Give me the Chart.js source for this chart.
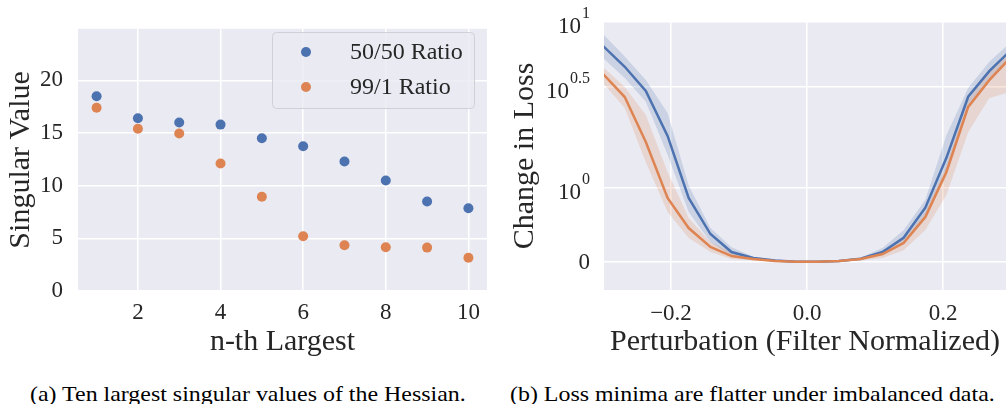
<!DOCTYPE html>
<html>
<head>
<meta charset="utf-8">
<script src="https://cdn.jsdelivr.net/npm/chart.js@4.4.0/dist/chart.umd.min.js"></script>
<style>
  html, body { margin: 0; padding: 0; background: #fff; width: 1006px; height: 404px; overflow: hidden; }
  #chartA { position: absolute; left: 0; top: 0; }
  #chartB { position: absolute; left: 500px; top: 0; }
  .cap { position: absolute; top: 383px; font-family: "Liberation Serif", serif; font-size: 22px;
         line-height: 22px; white-space: nowrap; color: #000; transform-origin: 0 0; transform: scaleX(1.087); }
</style>
</head>
<body>
<canvas id="chartA" width="500" height="360"></canvas>
<canvas id="chartB" width="506" height="360"></canvas>
<div class="cap" style="left:30px">(a) Ten largest singular values of the Hessian.</div>
<div class="cap" style="left:510px">(b) Loss minima are flatter under imbalanced data.</div>
<script>
// (a) singular values
const rank = [1, 2, 3, 4, 5, 6, 7, 8, 9, 10];
const sv5050 = [18.5, 16.4, 16.0, 15.8, 14.5, 13.75, 12.3, 10.5, 8.5, 7.85];
const sv991 = [17.4, 15.4, 14.95, 12.1, 8.95, 5.2, 4.35, 4.15, 4.12, 3.15];
const svTicksX = [2, 4, 6, 8, 10];
const svTicksY = [0, 5, 10, 15, 20];
const seriesNames = ['50/50 Ratio', '99/1 Ratio'];

// (b) loss vs perturbation
const perturb = [-0.300, -0.268, -0.237, -0.205, -0.174, -0.142, -0.111, -0.079, -0.047, -0.016,
                 0.016, 0.047, 0.079, 0.111, 0.142, 0.174, 0.205, 0.237, 0.268, 0.300];
const loss5050 = [5.05, 3.98, 3.02, 1.81, 0.865, 0.378, 0.135, 0.054, 0.02, 0.004,
                  0.004, 0.015, 0.045, 0.135, 0.328, 0.734, 1.41, 2.83, 3.79, 4.82];
const loss5050Lo = [4.40, 3.50, 2.67, 1.46, 0.676, 0.27, 0.081, 0.04, 0.012, 0.002,
                    0.002, 0.01, 0.035, 0.095, 0.243, 0.635, 1.23, 2.58, 3.50, 4.40];
const loss5050Hi = [5.78, 4.47, 3.42, 2.35, 1.03, 0.459, 0.20, 0.07, 0.03, 0.008,
                    0.008, 0.022, 0.06, 0.19, 0.43, 0.84, 1.83, 3.13, 4.21, 5.28];
const loss991 = [3.67, 2.82, 1.69, 0.865, 0.459, 0.203, 0.081, 0.041, 0.013, 0.003,
                 0.003, 0.013, 0.04, 0.108, 0.257, 0.608, 1.20, 2.52, 3.42, 4.45];
const loss991Lo = [3.31, 2.49, 1.34, 0.676, 0.324, 0.135, 0.04, 0.02, 0.006, 0.001,
                   0.001, 0.006, 0.02, 0.054, 0.16, 0.432, 0.905, 1.89, 2.79, 2.99];
const loss991Hi = [3.97, 3.16, 2.30, 1.20, 0.595, 0.27, 0.135, 0.06, 0.02, 0.006,
                   0.006, 0.02, 0.06, 0.15, 0.31, 0.676, 1.30, 2.73, 3.75, 4.82];
const lossTickVals = [0, 1, 3.162];
const lossTickLabels = [['0', ''], ['10', '0'], ['10', '0.5']];
const lossTopLabel = ['10', '1'];
const perturbTicks = [-0.2, 0, 0.2];

const BLUE = '#4C72B0', ORANGE = '#DD8452';
const INK = '#262626';
const SERIF = '"Liberation Serif", "Times New Roman", serif';

// symlog-like axis: linear below 1, log above
const DECADE = 2.73;
const sym = v => v <= 1 ? v : 1 + DECADE * Math.log10(v);

const bgPlugin = {
  id: 'bg',
  beforeDraw(chart) {
    const {ctx, chartArea: a} = chart;
    ctx.save();
    ctx.fillStyle = '#EAEAF2';
    ctx.fillRect(a.left, a.top, a.right - a.left, a.bottom - a.top);
    ctx.restore();
  }
};

const legendPlugin = {
  id: 'svLegend',
  afterDraw(chart) {
    const ctx = chart.ctx;
    ctx.save();
    ctx.beginPath();
    ctx.roundRect(272.5, 32.5, 202, 76, 4);
    ctx.fillStyle = 'rgba(234,234,242,0.8)';
    ctx.fill();
    ctx.strokeStyle = '#d0d0d6';
    ctx.lineWidth = 1;
    ctx.stroke();
    const rows = [52, 87];
    chart.data.datasets.forEach((ds, i) => {
      ctx.beginPath();
      ctx.arc(306, rows[i], 5, 0, Math.PI * 2);
      ctx.fillStyle = ds.backgroundColor;
      ctx.fill();
      ctx.fillStyle = INK;
      ctx.font = '24px ' + SERIF;
      ctx.textBaseline = 'middle';
      ctx.textAlign = 'left';
      ctx.fillText(ds.label, 350, rows[i] + 1);
    });
    ctx.restore();
  }
};

const gridOpts = {color: '#ffffff', lineWidth: 1.5, drawTicks: false};

new Chart(document.getElementById('chartA'), {
  type: 'scatter',
  data: {
    datasets: [
      {label: seriesNames[0], data: rank.map((r, i) => ({x: r, y: sv5050[i]})),
       backgroundColor: BLUE, pointRadius: 5, pointBorderWidth: 0},
      {label: seriesNames[1], data: rank.map((r, i) => ({x: r, y: sv991[i]})),
       backgroundColor: ORANGE, pointRadius: 5, pointBorderWidth: 0}
    ]
  },
  options: {
    responsive: false, animation: false, devicePixelRatio: 1,
    layout: {padding: {left: 0, right: 13, top: 21, bottom: 0}},
    plugins: {legend: {display: false}, tooltip: {enabled: false}},
    scales: {
      x: {
        type: 'linear', min: 0.55, max: 10.45,
        grid: gridOpts, border: {display: false},
        afterBuildTicks: s => { s.ticks = svTicksX.map(v => ({value: v})); },
        afterFit: s => { s.height = 69; },
        ticks: {color: INK, font: {family: SERIF, size: 23}, padding: 8, maxRotation: 0},
        title: {display: true, text: 'n-th Largest', color: INK, font: {family: SERIF, size: 30}, padding: {top: 0, bottom: 0}}
      },
      y: {
        min: 0, max: 24.9,
        grid: gridOpts, border: {display: false},
        afterBuildTicks: s => { s.ticks = svTicksY.map(v => ({value: v})); },
        afterFit: s => { s.width = 78; },
        ticks: {color: INK, font: {family: SERIF, size: 23}, padding: 15},
        title: {display: true, text: 'Singular Value', color: INK, font: {family: SERIF, size: 30}, padding: {top: 3, bottom: 0}}
      }
    }
  },
  plugins: [bgPlugin, legendPlugin]
});

const toPts = arr => perturb.map((x, i) => ({x, y: sym(arr[i])}));
const lineDs = (arr, color, order) => ({
  data: toPts(arr), borderColor: color, borderWidth: 2.5, pointRadius: 0,
  tension: 0, fill: false, order
});
const bandDs = (arr, fill, color, order) => ({
  data: toPts(arr), borderWidth: 0, borderColor: 'rgba(0,0,0,0)', pointRadius: 0,
  tension: 0, fill, backgroundColor: color, order
});

const lossLabelPlugin = {
  id: 'lossLabels',
  afterDraw(chart) {
    const ctx = chart.ctx, sc = chart.scales.y;
    const xr = 90;
    ctx.save();
    ctx.fillStyle = INK;
    ctx.textAlign = 'right';
    ctx.textBaseline = 'middle';
    const draw = (y, lab) => {
      if (!lab[1]) {
        ctx.font = '23px ' + SERIF;
        ctx.fillText(lab[0], xr, y + 1);
        return;
      }
      ctx.font = '16px ' + SERIF;
      const w = ctx.measureText(lab[1]).width;
      ctx.fillText(lab[1], xr, y - 8);
      ctx.font = '23px ' + SERIF;
      ctx.fillText(lab[0], xr - w - 1, y + 5);
    };
    lossTickVals.forEach((v, i) => draw(sc.getPixelForValue(sym(v)), lossTickLabels[i]));
    draw(sc.top, lossTopLabel);
    ctx.restore();
  }
};

new Chart(document.getElementById('chartB'), {
  type: 'line',
  data: {
    datasets: [
      bandDs(loss5050Lo, false, 'rgba(0,0,0,0)', 5),
      bandDs(loss5050Hi, '-1', 'rgba(76,114,176,0.2)', 4),
      bandDs(loss991Lo, false, 'rgba(0,0,0,0)', 3),
      bandDs(loss991Hi, '-1', 'rgba(221,132,82,0.2)', 2),
      lineDs(loss5050, BLUE, 1),
      lineDs(loss991, ORANGE, 0)
    ]
  },
  options: {
    responsive: false, animation: false, devicePixelRatio: 1,
    layout: {padding: {left: 0, right: 0, top: 22, bottom: 0}},
    plugins: {legend: {display: false}, tooltip: {enabled: false}},
    scales: {
      x: {
        type: 'linear', min: -0.2985, max: 0.2926,
        grid: gridOpts, border: {display: false},
        afterBuildTicks: s => { s.ticks = perturbTicks.map(v => ({value: v})); },
        afterFit: s => { s.height = 70; },
        ticks: {color: INK, font: {family: SERIF, size: 23}, padding: 10, maxRotation: 0,
                callback: v => (v < -1e-9 ? '\u2212' : '') + Math.abs(v).toFixed(1)},
        title: {display: true, text: 'Perturbation (Filter Normalized)', color: INK,
                font: {family: SERIF, size: 30}, padding: {top: 0, bottom: 0}}
      },
      y: {
        type: 'linear', min: -0.378, max: 3.243,
        grid: gridOpts, border: {display: false},
        afterBuildTicks: s => {
          s.ticks = lossTickVals.map(v => ({value: sym(v)})).concat([{value: 3.243}]);
        },
        afterFit: s => { s.width = 104; },
        ticks: {display: false},
        title: {display: true, text: 'Change in Loss', color: INK,
                font: {family: SERIF, size: 30}, padding: {top: 7, bottom: 0}}
      }
    }
  },
  plugins: [bgPlugin, lossLabelPlugin]
});
</script>
</body>
</html>
